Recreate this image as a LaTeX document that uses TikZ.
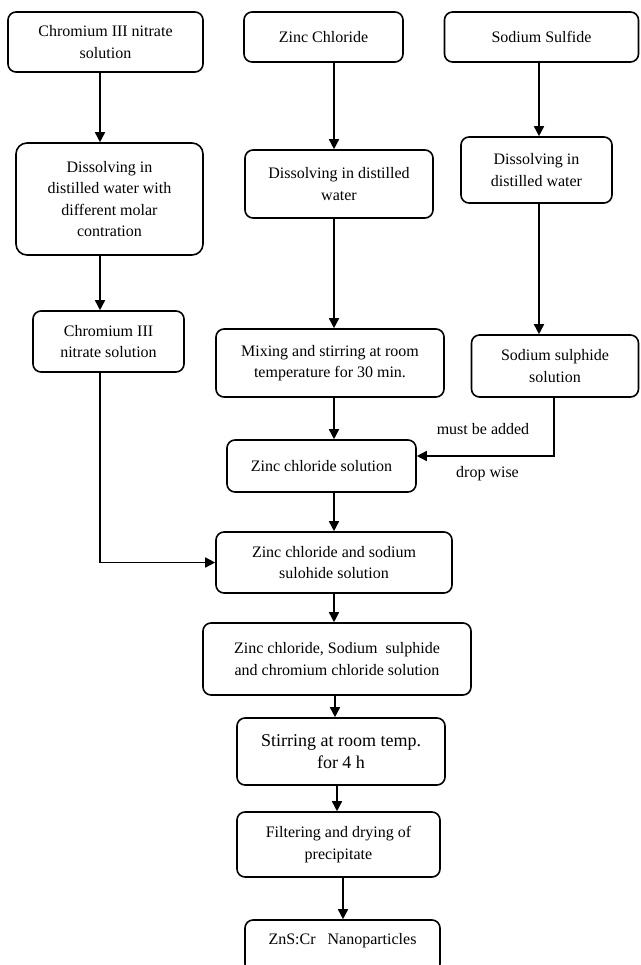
\documentclass[tikz,border=0pt]{standalone}
\usepackage{fontspec}
\setmainfont{Liberation Serif}
\usetikzlibrary{arrows.meta,calc}
\begin{document}
\begin{tikzpicture}[x=1pt,y=-1pt,
  box/.style={draw=black,line width=1.6pt,rounded corners=8pt,align=center,inner sep=0pt,
    font=\fontsize{16}{21.5}\selectfont},
  arr/.style={line width=1.6pt,-{Triangle[length=10pt,width=10pt]}},
  lbl/.style={font=\fontsize{16}{21.5}\selectfont,inner sep=0pt}]
\useasboundingbox (0,0) rectangle (640,965);
\clip (0,0) rectangle (640,965);
% column coordinates
\coordinate (colA) at (100,0);
\coordinate (colB) at (334,0);
\coordinate (colC) at (539,0);
\coordinate (colD) at (554,0);
\coordinate (colE) at (335,0);
\coordinate (colF) at (337,0);
\coordinate (colG) at (343,0);
\coordinate (rowE) at (0,456);
% boxes
\node[box,minimum width=195pt,minimum height=60pt] (A1) at (105.5,42) {Chromium III nitrate\\solution};
\node[box,minimum width=159pt,minimum height=50pt] (B1) at (323.5,37) {Zinc Chloride};
\node[box,minimum width=194pt,minimum height=50pt] (C1) at (541.5,37) {Sodium Sulfide};
\node[box,rounded corners=11pt,minimum width=187pt,minimum height=112pt] (A2) at (109.5,199) {Dissolving in\\distilled water with\\different molar\\contration};
\node[box,minimum width=188pt,minimum height=68pt] (B2) at (339,184) {Dissolving in distilled\\water};
\node[box,minimum width=151pt,minimum height=66pt] (C2) at (536.5,170) {Dissolving in\\distilled water};
\node[box,minimum width=151pt,minimum height=61pt] (A3) at (108.5,341.5) {Chromium III\\nitrate solution};
\node[box,minimum width=228pt,minimum height=68pt] (B3) at (330,363) {Mixing and stirring at room\\temperature for 30 min.};
\node[box,minimum width=167pt,minimum height=62pt] (C3) at (555,366) {Sodium sulphide\\solution};
\node[box,minimum width=189pt,minimum height=52pt] (B4) at (321.5,466) {Zinc chloride solution};
\node[box,minimum width=236pt,minimum height=61pt] (B5) at (334,562.5) {Zinc chloride and sodium\\sulohide solution};
\node[box,minimum width=268pt,minimum height=72pt] (B6) at (337,659) {Zinc chloride, Sodium\ \ sulphide\\and chromium chloride solution};
\node[box,minimum width=208pt,minimum height=67pt,font=\fontsize{18}{22}\selectfont] (B7) at (341,751.5) {Stirring at room temp.\\for 4 h};
\node[box,minimum width=203pt,minimum height=65pt] (B8) at (338.5,844.5) {Filtering and drying of\\precipitate};
\node[box,minimum width=195pt,minimum height=52pt] (B9) at (342.5,946) {};
\node[lbl] (B9t) at (342.5,941) {ZnS:Cr\ \ \ Nanoparticles};
% labels
\node[lbl] (L1) at (483,429) {must be added};
\node[lbl] (L2) at (487.5,474) {drop wise};
% connectors
\draw[arr] (A1.south -| colA) -- (A2.north -| colA);
\draw[arr] (A2.south -| colA) -- (A3.north -| colA);
\draw[arr] (B1.south -| colB) -- (B2.north -| colB);
\draw[arr] (B2.south -| colB) -- (B3.north -| colB);
\draw[arr] (B3.south -| colB) -- (B4.north -| colB);
\draw[arr] (B4.south -| colB) -- (B5.north -| colB);
\draw[arr] (B5.south -| colB) -- (B6.north -| colB);
\draw[arr] (B6.south -| colE) -- (B7.north -| colE);
\draw[arr] (B7.south -| colF) -- (B8.north -| colF);
\draw[arr] (B8.south -| colG) -- (B9.north -| colG);
\draw[arr] (C1.south -| colC) -- (C2.north -| colC);
\draw[arr] (C2.south -| colC) -- (C3.north -| colC);
\draw[arr] (C3.south -| colD) |- (B4.east |- rowE);
\draw[arr] (A3.south -| colA) |- (B5.west);
\end{tikzpicture}
\end{document}
